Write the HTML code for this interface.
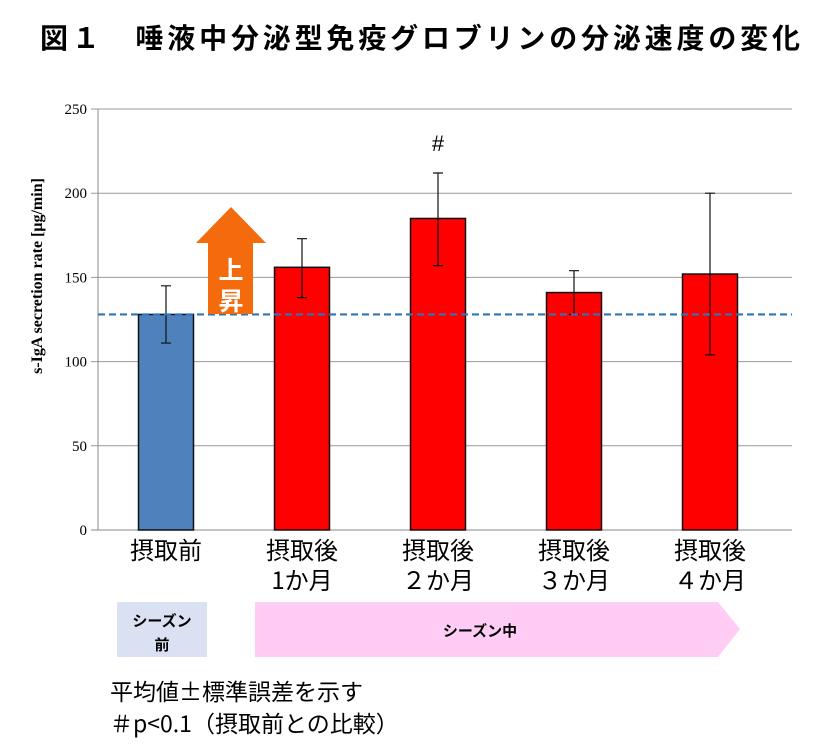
<!DOCTYPE html>
<html><head><meta charset="utf-8"><style>
body{margin:0;background:#fff;width:840px;height:756px;overflow:hidden;font-family:"Liberation Sans","Noto Sans CJK JP",sans-serif}
</style></head><body>
<svg width="840" height="756" style="position:absolute;left:0;top:0">
<text x="40" y="48" textLength="760" lengthAdjust="spacing" font-size="28" font-weight="bold" font-family="Liberation Sans,Noto Sans CJK JP,sans-serif">図１　唾液中分泌型免疫グロブリンの分泌速度の変化</text>
<g id="grid"></g>
<g id="bars"></g>
<text transform="translate(42,276) rotate(-90)" text-anchor="middle" font-size="16" font-weight="bold" font-family="Liberation Serif,serif">s-IgA secretion rate [μg/min]</text>
<g>
<polygon points="208,314 208,243 196,243 231,207 266,243 253,243 253,314" fill="#f36b0c"/>
<text x="231" y="279" text-anchor="middle" font-size="25" fill="#fff" font-weight="bold" font-family="Noto Sans CJK JP,sans-serif">上</text>
<text x="231" y="310" text-anchor="middle" font-size="25" fill="#fff" font-weight="bold" font-family="Noto Sans CJK JP,sans-serif">昇</text>
</g>
<rect x="117" y="602" width="90" height="55" fill="#d9e1f2"/>
<text x="162" y="626" text-anchor="middle" font-size="15" font-weight="bold" font-family="Noto Sans CJK JP,sans-serif">シーズン</text>
<text x="162" y="650" text-anchor="middle" font-size="15" font-weight="bold" font-family="Noto Sans CJK JP,sans-serif">前</text>
<polygon points="255,602 718,602 740,629 718,657 255,657" fill="#ffccf5"/>
<text x="480" y="636" text-anchor="middle" font-size="15" font-weight="bold" font-family="Noto Sans CJK JP,sans-serif">シーズン中</text>
<text x="110" y="700" font-size="23" font-family="Noto Sans CJK JP,sans-serif">平均値±標準誤差を示す</text>
<text x="110" y="732" font-size="23" font-family="Noto Sans CJK JP,sans-serif">＃p&lt;0.1（摂取前との比較）</text>
</svg>
<script>
const categories=[["摂取前"],["摂取後","1か月"],["摂取後","２か月"],["摂取後","３か月"],["摂取後","４か月"]];
const values=[128,156,185,141,152];
const errLow=[111,138,157,128,104];
const errHigh=[145,173,212,154,200];
const colors=["#4f81bd","#ff0000","#ff0000","#ff0000","#ff0000"];
const marks=["","","#","",""];
const yTicks=[0,50,100,150,200,250];
const baseline=128;
const NS="http://www.w3.org/2000/svg";
const L=98,R=792,T=109,B=530,yMax=250;
const band=136;
const y=v=>B-(v/yMax)*(B-T);
const x=i=>L+band*(i+0.5);
function mk(tag,attrs,parent){const e=document.createElementNS(NS,tag);for(const k in attrs)e.setAttribute(k,attrs[k]);parent.appendChild(e);return e;}
const g=document.getElementById('grid'),bg=document.getElementById('bars');
yTicks.forEach(t=>{
 const l=mk('line',{x1:L-7,x2:R,y1:y(t),y2:y(t),stroke:t===0?'#888':'#999','stroke-width':1},g);
 
 
 const tx=mk('text',{x:L-11,y:y(t)+5,'text-anchor':'end','font-size':15,'font-family':'Liberation Serif,serif'},g);
 tx.textContent=t;
 
 
});
const ax=mk('line',{x1:L,x2:L,y1:T,y2:B,stroke:'#888'},g);


const bw=55;
values.forEach((v,i)=>{
 const r=mk('rect',{x:x(i)-bw/2,y:y(v),width:bw,height:B-y(v),fill:colors[i],stroke:'#111','stroke-width':1.5},bg);
 
 
 const e=mk('path',{d:`M${x(i)},${y(errLow[i])}V${y(errHigh[i])}M${x(i)-5},${y(errLow[i])}H${x(i)+5}M${x(i)-5},${y(errHigh[i])}H${x(i)+5}`,stroke:'#111','stroke-width':1.2,fill:'none'},bg);
 
 
 if(marks[i]){const m=mk('text',{x:x(i),y:y(errHigh[i])-22,'text-anchor':'middle','font-size':22,'font-family':'Liberation Sans,sans-serif'},bg);m.textContent=marks[i];
 
 }
 categories[i].forEach((s,j)=>{const t=mk('text',{x:x(i),y:559+j*30,'text-anchor':'middle','font-size':24,'font-family':'Noto Sans CJK JP,sans-serif'},bg);t.textContent=s;
 
 });
});
const d=mk('line',{x1:L,x2:R,y1:y(baseline),y2:y(baseline),stroke:'#2e75b6','stroke-width':2.2,'stroke-dasharray':'7,4'},bg);


</script>
</body></html>
